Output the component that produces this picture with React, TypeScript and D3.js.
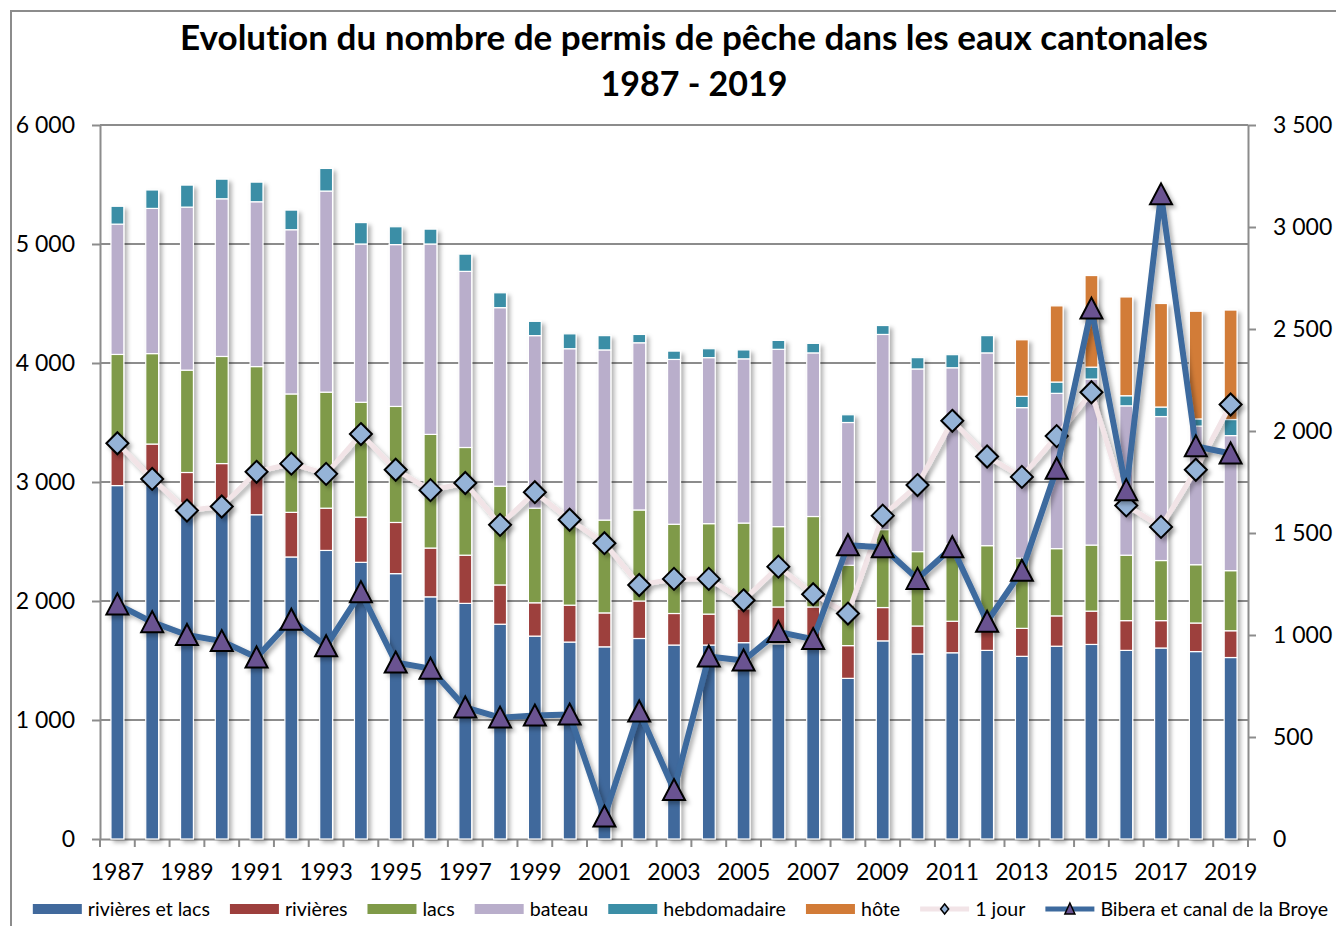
import { useRef, useEffect } from "react";
import * as d3 from "d3";

const years = ["1987", "1988", "1989", "1990", "1991", "1992", "1993", "1994", "1995", "1996", "1997",
    "1998", "1999", "2000", "2001", "2002", "2003", "2004", "2005", "2006", "2007", "2008",
    "2009", "2010", "2011", "2012", "2013", "2014", "2015", "2016", "2017", "2018", "2019"];

const rivieresEtLacs = [2970, 2990, 2780, 2770, 2725, 2370, 2425, 2325, 2230, 2035, 1980,
    1805, 1705, 1655, 1615, 1685, 1630, 1630, 1650, 1640, 1660, 1350,
    1665, 1555, 1565, 1585, 1535, 1620, 1635, 1585, 1605, 1575, 1525];
const rivieres = [317, 329, 300, 385, 355, 375, 355, 380, 430, 410, 405,
    330, 280, 310, 285, 315, 265, 260, 285, 310, 290, 275,
    280, 235, 265, 250, 235, 255, 280, 250, 230, 240, 225];
const lacs = [785, 760, 860, 900, 890, 995, 975, 965, 975, 955, 905,
    830, 795, 715, 780, 765, 750, 760, 720, 675, 760, 675,
    655, 625, 650, 630, 590, 565, 555, 550, 505, 490, 505];
const bateau = [1095, 1220, 1370, 1325, 1385, 1380, 1690, 1330, 1360, 1600, 1480,
    1500, 1450, 1440, 1430, 1405, 1385, 1395, 1380, 1490, 1375, 1200,
    1640, 1535, 1480, 1620, 1265, 1305, 1395, 1255, 1210, 1165, 1135];
const hebdomadaire = [150, 155, 185, 165, 165, 165, 190, 180, 150, 125, 145,
    125, 120, 125, 120, 70, 70, 75, 75, 75, 80, 65,
    75, 95, 110, 145, 95, 95, 100, 85, 80, 60, 135];
const hote = [0, 0, 0, 0, 0, 0, 0, 0, 0, 0, 0,
    0, 0, 0, 0, 0, 0, 0, 0, 0, 0, 0,
    0, 0, 0, 0, 475, 640, 770, 830, 870, 905, 920];

// right axis
const unJour = [1940, 1765, 1610, 1630, 1800, 1840, 1790, 1985, 1810, 1710, 1745,
    1540, 1700, 1565, 1450, 1245, 1275, 1275, 1170, 1335, 1200, 1105,
    1585, 1735, 2050, 1875, 1775, 1975, 2190, 1635, 1530, 1810, 2130];
const bibera = [1150, 1063, 1000, 970, 890, 1075, 945, 1210, 865, 835, 645,
    595, 605, 610, 110, 625, 240, 895, 875, 1015, 980, 1440,
    1430, 1275, 1430, 1065, 1315, 1815, 2600, 1710, 3160, 1925, 1890];

const leftTicks = [0, 1000, 2000, 3000, 4000, 5000, 6000];
const rightTicks = [0, 500, 1000, 1500, 2000, 2500, 3000, 3500];

const barNames = ["rivières et lacs", "rivières", "lacs", "bateau", "hebdomadaire", "hôte"];
const barColors = ["#41699c", "#9d3f3d", "#7f9a48", "#b9aecb", "#3b8ea6", "#d27b37"];
const lineNames = ["1 jour", "Bibera et canal de la Broye"];

const W = 1336;
const H = 926;
const margin = { left: 100, right: 88, top: 125, bottom: 87 };
const FONT = "Lato, 'Open Sans', sans-serif";

const diamond = "M0,-11L11,0L0,11L-11,0Z";
const triangle = "M0,-11L11,10L-11,10Z";

export default function App() {
    const svgRef = useRef<SVGSVGElement>(null);

    useEffect(() => {
        const svg = d3.select(svgRef.current as SVGSVGElement);
        svg.selectAll("*").remove();

        const x0 = margin.left, x1 = W - margin.right;
        const y0 = H - margin.bottom, y1 = margin.top;

        const fmt = d3.formatLocale({ decimal: ",", thousands: " ", grouping: [3], currency: ["", ""] }).format(",d");

        const defs = svg.append("defs");
        const f = defs.append("filter").attr("id", "shadow")
            .attr("x", "-30%").attr("y", "-10%").attr("width", "160%").attr("height", "130%");
        f.append("feDropShadow").attr("dx", 3).attr("dy", 3).attr("stdDeviation", 2.2)
            .attr("flood-color", "#000").attr("flood-opacity", 0.3);

        // outer chart border
        svg.append("rect").attr("x", 11).attr("y", 11).attr("width", W + 20).attr("height", H + 20)
            .attr("fill", "#fff").attr("stroke", "#8c8c8c").attr("stroke-width", 2);

        // title
        const title = svg.append("text").attr("text-anchor", "middle")
            .attr("font-family", FONT).attr("font-weight", "bold").attr("font-size", 34)
            .style("font-variant-ligatures", "none");
        title.append("tspan").attr("x", 694).attr("y", 50)
            .attr("textLength", 1028).attr("lengthAdjust", "spacingAndGlyphs")
            .text("Evolution du nombre de permis de pêche dans les eaux cantonales");
        title.append("tspan").attr("x", 694).attr("y", 96).text("1987 - 2019");

        // scales
        const x = d3.scaleBand<string>().domain(years).range([x0, x1])
            .paddingInner(0.63).paddingOuter(0.315);
        const y = d3.scaleLinear().domain([0, 6000]).range([y0, y1]);
        const y2 = d3.scaleLinear().domain([0, 3500]).range([y0, y1]);

        // gridlines
        svg.append("g").selectAll("line").data(leftTicks.filter(d => d > 0)).join("line")
            .attr("x1", x0).attr("x2", x1)
            .attr("y1", d => y(d)).attr("y2", d => y(d))
            .attr("stroke", "#8c8c8c").attr("stroke-width", 2);

        // axes
        const styleAxis = (g: d3.Selection<SVGGElement, unknown, null, undefined>) => {
            g.select(".domain").attr("stroke", "#8c8c8c").attr("stroke-width", 2);
            g.selectAll(".tick line").attr("stroke", "#8c8c8c").attr("stroke-width", 2);
            g.selectAll(".tick text").attr("font-family", FONT).attr("font-size", 23).attr("fill", "#000");
        };

        svg.append("g").attr("transform", `translate(${x0},0)`)
            .call(d3.axisLeft(y).tickValues(leftTicks).tickSize(8).tickPadding(17).tickSizeOuter(0).tickFormat(d => fmt(d as number)))
            .call(styleAxis);

        svg.append("g").attr("transform", `translate(${x1},0)`)
            .call(d3.axisRight(y2).tickValues(rightTicks).tickSize(8).tickPadding(17).tickSizeOuter(0).tickFormat(d => fmt(d as number)))
            .call(styleAxis);

        const xAxis = svg.append("g").attr("transform", `translate(0,${y0})`)
            .call(d3.axisBottom(x).tickSize(0).tickPadding(28)
                .tickFormat((d, i) => (i % 2 === 0 ? d : "")))
            .call(styleAxis);
        xAxis.selectAll(".tick text").attr("dy", "0.55em");
        const step = x.step();
        xAxis.append("g").selectAll("line").data(d3.range(years.length + 1)).join("line")
            .attr("x1", i => x0 + i * step).attr("x2", i => x0 + i * step)
            .attr("y1", 0).attr("y2", 8)
            .attr("stroke", "#8c8c8c").attr("stroke-width", 2);

        // stacked bars
        const table = years.map((yr, i) => ({
            year: yr,
            [barNames[0]]: rivieresEtLacs[i],
            [barNames[1]]: rivieres[i],
            [barNames[2]]: lacs[i],
            [barNames[3]]: bateau[i],
            [barNames[4]]: hebdomadaire[i],
            [barNames[5]]: hote[i],
        }));
        const stacked = d3.stack<any>().keys(barNames)(table);

        const bars = svg.append("g").attr("filter", "url(#shadow)");
        bars.selectAll("g").data(stacked).join("g")
            .attr("fill", (_, i) => barColors[i])
            .selectAll("rect").data(d => d.filter(s => s[1] - s[0] > 0)).join("rect")
            .attr("x", d => x(d.data.year) as number)
            .attr("width", x.bandwidth())
            .attr("y", d => y(d[1]))
            .attr("height", d => y(d[0]) - y(d[1]))
            .attr("stroke", "#fff").attr("stroke-width", 1.2);

        const cx = (i: number) => (x(years[i]) as number) + x.bandwidth() / 2;

        // 1 jour line
        const line1 = d3.line<number>().x((_, i) => cx(i)).y(d => y2(d));
        const g1 = svg.append("g").attr("filter", "url(#shadow)");
        g1.append("path").datum(unJour).attr("d", line1)
            .attr("fill", "none").attr("stroke", "#f2e4e7").attr("stroke-width", 5);
        g1.selectAll("path.m").data(unJour).join("path").attr("class", "m")
            .attr("d", diamond)
            .attr("transform", (d, i) => `translate(${cx(i)},${y2(d)})`)
            .attr("fill", "#95b3d7").attr("stroke", "#000").attr("stroke-width", 2);

        // Bibera line
        const g2 = svg.append("g").attr("filter", "url(#shadow)");
        g2.append("path").datum(bibera).attr("d", line1)
            .attr("fill", "none").attr("stroke", "#3d6a9e").attr("stroke-width", 6)
            .attr("stroke-linejoin", "round");
        g2.selectAll("path.m").data(bibera).join("path").attr("class", "m")
            .attr("d", triangle)
            .attr("transform", (d, i) => `translate(${cx(i)},${y2(d)})`)
            .attr("fill", "#6a5391").attr("stroke", "#000").attr("stroke-width", 2);

        // legend
        const legend = svg.append("g").attr("font-family", FONT).attr("font-size", 19.6);
        const items = [...barNames.map((n, i) => ({ name: n, kind: "bar", color: barColors[i] })),
            { name: lineNames[0], kind: "jour", color: "#f2e4e7" },
            { name: lineNames[1], kind: "bibera", color: "#3d6a9e" }];
        let lx = 0;
        const ly = 909;
        items.forEach(it => {
            const g = legend.append("g").attr("transform", `translate(${lx},0)`);
            if (it.kind === "bar") {
                g.append("rect").attr("x", 0).attr("y", ly - 5).attr("width", 49).attr("height", 10)
                    .attr("fill", it.color);
            } else {
                g.append("line").attr("x1", 0).attr("x2", 49).attr("y1", ly).attr("y2", ly)
                    .attr("stroke", it.color).attr("stroke-width", 5);
                g.append("path")
                    .attr("d", it.kind === "jour" ? "M0,-5L4,0L0,5L-4,0Z" : "M0,-6L5,5L-5,5Z")
                    .attr("transform", `translate(24.5,${ly})`)
                    .attr("fill", it.kind === "jour" ? "#95b3d7" : "#6a5391")
                    .attr("stroke", "#000").attr("stroke-width", 1.5);
            }
            const t = g.append("text").attr("x", 55).attr("y", ly).attr("dy", "0.35em").text(it.name);
            const tw = (t.node() as SVGTextElement).getComputedTextLength();
            lx += 55 + tw + 20;
        });
        const total = lx - 20;
        legend.attr("transform", `translate(${680.5 - total / 2},0)`);
    }, []);

    return <svg ref={svgRef} width={W} height={H}
        style={{ position: "absolute", left: 0, top: 0, display: "block", background: "#fff" }} />;
}
